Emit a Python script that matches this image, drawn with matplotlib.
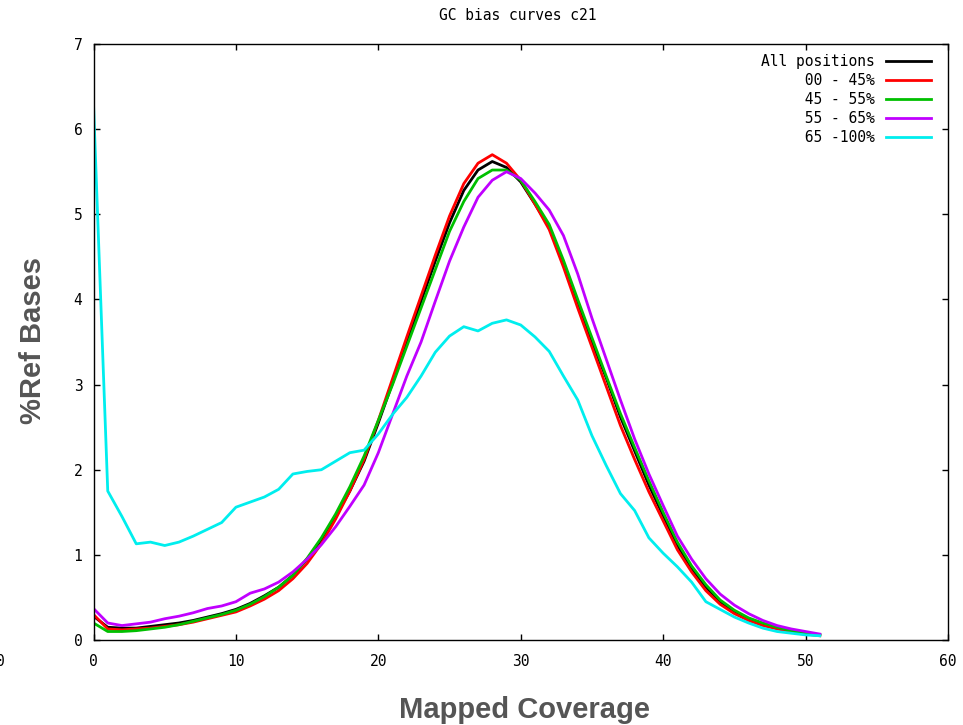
import matplotlib
matplotlib.use("Agg")
import matplotlib.pyplot as plt

coverage = list(range(0, 52))

all_positions = [0.28, 0.15, 0.14, 0.14, 0.16, 0.18, 0.20, 0.23, 0.27, 0.31,
                 0.36, 0.43, 0.52, 0.62, 0.76, 0.95, 1.18, 1.45, 1.75, 2.10,
                 2.55, 3.02, 3.50, 3.98, 4.45, 4.90, 5.28, 5.52, 5.62, 5.55,
                 5.38, 5.12, 4.85, 4.42, 3.95, 3.50, 3.08, 2.62, 2.22, 1.82,
                 1.46, 1.11, 0.84, 0.62, 0.45, 0.33, 0.25, 0.19, 0.14, 0.11,
                 0.08, 0.06]

gc_00_45 = [0.30, 0.13, 0.12, 0.13, 0.14, 0.16, 0.18, 0.21, 0.25, 0.29,
            0.33, 0.40, 0.48, 0.58, 0.72, 0.90, 1.13, 1.42, 1.75, 2.12,
            2.58, 3.07, 3.56, 4.04, 4.52, 4.98, 5.36, 5.60, 5.70, 5.60,
            5.40, 5.12, 4.82, 4.38, 3.90, 3.44, 2.98, 2.52, 2.12, 1.74,
            1.40, 1.06, 0.80, 0.58, 0.42, 0.31, 0.23, 0.17, 0.13, 0.10,
            0.07, 0.05]

gc_45_55 = [0.20, 0.10, 0.10, 0.11, 0.13, 0.15, 0.18, 0.22, 0.26, 0.30,
            0.35, 0.42, 0.51, 0.62, 0.76, 0.96, 1.20, 1.48, 1.80, 2.16,
            2.58, 3.00, 3.45, 3.90, 4.35, 4.80, 5.15, 5.42, 5.52, 5.52,
            5.40, 5.15, 4.88, 4.46, 4.00, 3.55, 3.10, 2.66, 2.26, 1.87,
            1.50, 1.15, 0.87, 0.65, 0.47, 0.35, 0.26, 0.20, 0.15, 0.11,
            0.08, 0.06]

gc_55_65 = [0.37, 0.20, 0.17, 0.19, 0.21, 0.25, 0.28, 0.32, 0.37, 0.40,
            0.45, 0.55, 0.60, 0.68, 0.80, 0.95, 1.12, 1.33, 1.57, 1.82,
            2.20, 2.65, 3.10, 3.50, 3.98, 4.45, 4.85, 5.20, 5.40, 5.50,
            5.42, 5.25, 5.05, 4.75, 4.30, 3.78, 3.30, 2.82, 2.36, 1.95,
            1.58, 1.22, 0.95, 0.72, 0.54, 0.41, 0.31, 0.23, 0.17, 0.13,
            0.10, 0.07]

gc_65_100 = [6.30, 1.75, 1.45, 1.13, 1.15, 1.11, 1.15, 1.22, 1.30, 1.38,
             1.56, 1.62, 1.68, 1.77, 1.95, 1.98, 2.00, 2.10, 2.20, 2.23,
             2.42, 2.65, 2.85, 3.10, 3.38, 3.57, 3.68, 3.63, 3.72, 3.76,
             3.70, 3.56, 3.39, 3.10, 2.82, 2.40, 2.05, 1.72, 1.52, 1.20,
             1.02, 0.86, 0.68, 0.45, 0.36, 0.27, 0.20, 0.14, 0.10, 0.08,
             0.06, 0.05]

series_labels = ["All positions", "00 - 45%", "45 - 55%", "55 - 65%", "65 -100%"]
series_colors = ["#000000", "#ff0000", "#00c000", "#c000ff", "#00eeee"]
x_ticks = [0, 10, 20, 30, 40, 50, 60]
y_ticks = [0, 1, 2, 3, 4, 5, 6, 7]

mono = "DejaVu Sans Mono"
fs = 10.5

fig = plt.figure(figsize=(9.63, 7.25), dpi=100)
ax = fig.add_axes([0.0971, 0.1172, 0.8873, 0.8221])

series = [all_positions, gc_00_45, gc_45_55, gc_55_65, gc_65_100]
width = max(len(s) for s in series_labels)
for vals, lab, col in zip(series, series_labels, series_colors):
    ax.plot(coverage, vals, color=col, lw=2.0, label=lab.rjust(width))

ax.set_xlim(0, 60)
ax.set_ylim(0, 7)
ax.set_xticks(x_ticks)
ax.set_yticks(y_ticks)
ax.tick_params(direction="in", length=4.5, width=1.0, top=True, right=True,
               labelsize=fs)
ax.tick_params(axis="x", pad=10)
ax.tick_params(axis="y", pad=8)
for lbl in ax.get_xticklabels() + ax.get_yticklabels():
    lbl.set_fontfamily(mono)
for sp in ax.spines.values():
    sp.set_linewidth(1.0)

leg = ax.legend(loc="upper right", bbox_to_anchor=(0.987, 0.993), frameon=False,
                markerfirst=False, handlelength=3.1, handletextpad=0.75,
                labelspacing=0.27, borderaxespad=0,
                prop={"family": mono, "size": fs})

fig.text(0.538, 0.978, "GC bias curves c21", ha="center", va="center",
         family=mono, fontsize=fs)
fig.text(0.545, 0.021, "Mapped Coverage", ha="center", va="center",
         family="Liberation Sans", fontweight="bold", fontsize=21, color="#555555")
fig.text(0.034, 0.53, "%Ref Bases", ha="center", va="center", rotation=90,
         family="Liberation Sans", fontweight="bold", fontsize=21, color="#555555")
fig.text(0.0, 0.088, "0", ha="center", va="center", family=mono, fontsize=fs)

fig.savefig("out.png", dpi=100)
